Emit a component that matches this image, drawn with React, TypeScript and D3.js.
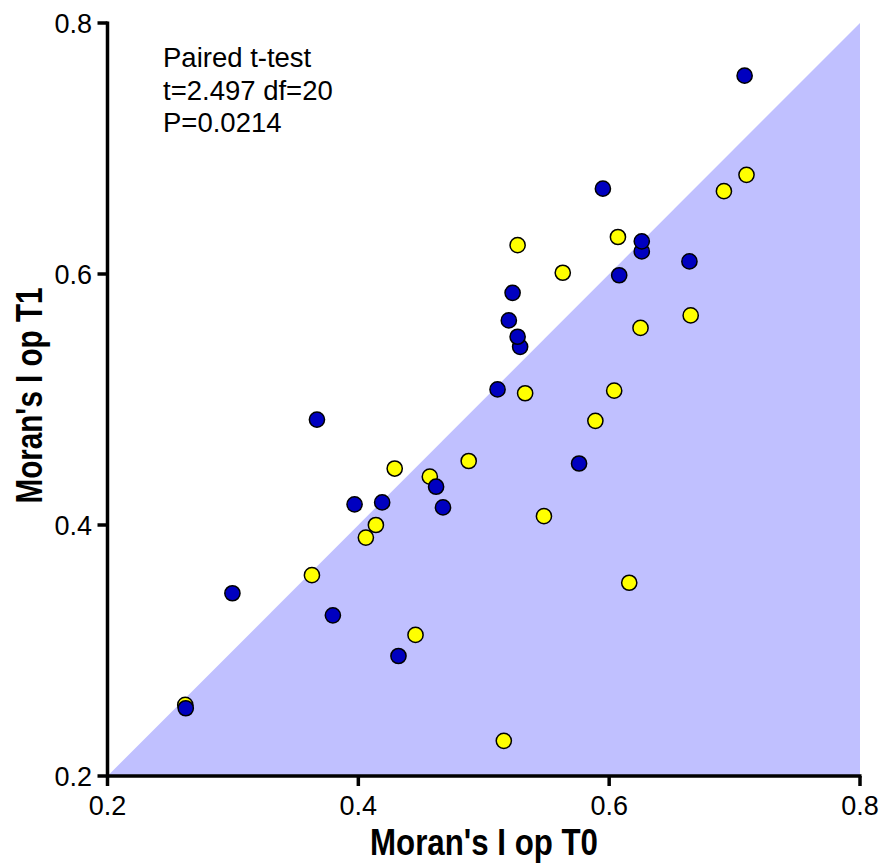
import React from "react";
import * as d3 from "d3";

// Group drawn in dark blue: Moran's I at T0 and T1
const blueT0 = [0.432, 0.3797, 0.2996, 0.2624, 0.4675, 0.462, 0.419, 0.397, 0.367, 0.576, 0.511, 0.529, 0.527, 0.52, 0.523, 0.664, 0.608, 0.626, 0.626, 0.595, 0.708];
const blueT1 = [0.2956, 0.328, 0.3456, 0.254, 0.414, 0.4305, 0.418, 0.4165, 0.484, 0.449, 0.508, 0.542, 0.55, 0.563, 0.585, 0.61, 0.599, 0.618, 0.626, 0.668, 0.758];

// Group drawn in yellow
const yellowT0 = [0.262, 0.516, 0.4456, 0.616, 0.363, 0.406, 0.414, 0.548, 0.457, 0.429, 0.488, 0.589, 0.604, 0.533, 0.625, 0.665, 0.563, 0.527, 0.607, 0.6915, 0.7095];
const yellowT1 = [0.2566, 0.228, 0.3124, 0.354, 0.36, 0.39, 0.4, 0.407, 0.4385, 0.445, 0.451, 0.483, 0.507, 0.505, 0.557, 0.567, 0.601, 0.623, 0.6295, 0.666, 0.679];

const tickValues = [0.2, 0.4, 0.6, 0.8];
const annotation = ["Paired t-test", "t=2.497 df=20", "P=0.0214"];
const xTitle = "Moran's I op T0";
const yTitle = "Moran's I op T1";

const W = 883;
const H = 867;
const FONT = "'Liberation Sans', Arial, Helvetica, sans-serif";

export default function App() {
  const x = d3.scaleLinear().domain([0.2, 0.8]).range([107.5, 860]);
  const y = d3.scaleLinear().domain([0.2, 0.8]).range([776, 23]);

  const shade = d3.line<[number, number]>()
    .x((d) => x(d[0]))
    .y((d) => y(d[1]))([
      [0.2, 0.2],
      [0.8, 0.8],
      [0.8, 0.2],
    ]) + "Z";

  const yellow = yellowT0.map((v, i) => [v, yellowT1[i]]);
  const blue = blueT0.map((v, i) => [v, blueT1[i]]);

  return (
    <svg
      width={W}
      height={H}
      style={{ position: "absolute", left: 0, top: 0, background: "#fff" }}
      fontFamily={FONT}
    >
      <rect x={0} y={0} width={W} height={H} fill="#fff" />
      <path d={shade} fill="#c0c0ff" />

      {yellow.map((d, i) => (
        <circle key={"y" + i} cx={x(d[0])} cy={y(d[1])} r={7.6} fill="#ffff00" stroke="#000" strokeWidth={1.5} />
      ))}
      {blue.map((d, i) => (
        <circle key={"b" + i} cx={x(d[0])} cy={y(d[1])} r={7.6} fill="#0000c0" stroke="#000" strokeWidth={1.5} />
      ))}

      {/* axes */}
      <line x1={x(0.2)} x2={x(0.2)} y1={y(0.8) - 1.5} y2={y(0.2) + 1.5} stroke="#000" strokeWidth={3.5} />
      <line x1={x(0.2) - 1.5} x2={x(0.8) + 1.5} y1={y(0.2)} y2={y(0.2)} stroke="#000" strokeWidth={3.5} />
      {tickValues.map((t) => (
        <g key={"yt" + t}>
          <line x1={x(0.2) - 10} x2={x(0.2)} y1={y(t)} y2={y(t)} stroke="#000" strokeWidth={3.5} />
          <text x={92} y={y(t) + 9.5} textAnchor="end" fontSize={27} fill="#000">
            {d3.format(".1f")(t)}
          </text>
        </g>
      ))}
      {tickValues.map((t) => (
        <g key={"xt" + t}>
          <line x1={x(t)} x2={x(t)} y1={y(0.2)} y2={y(0.2) + 10} stroke="#000" strokeWidth={3.5} />
          <text x={x(t)} y={815} textAnchor="middle" fontSize={27} fill="#000">
            {d3.format(".1f")(t)}
          </text>
        </g>
      ))}

      {/* titles */}
      <text
        x={484}
        y={855}
        textAnchor="middle"
        fontSize={37}
        fontWeight="bold"
        textLength={228}
        lengthAdjust="spacingAndGlyphs"
        fill="#000"
      >
        {xTitle}
      </text>
      <text
        transform="translate(42,395.5) rotate(-90)"
        textAnchor="middle"
        fontSize={37}
        fontWeight="bold"
        textLength={216}
        lengthAdjust="spacingAndGlyphs"
        fill="#000"
      >
        {yTitle}
      </text>

      {annotation.map((s, i) => (
        <text key={s} x={163} y={67 + i * 32.5} fontSize={27.5} fill="#000">
          {s}
        </text>
      ))}
    </svg>
  );
}
